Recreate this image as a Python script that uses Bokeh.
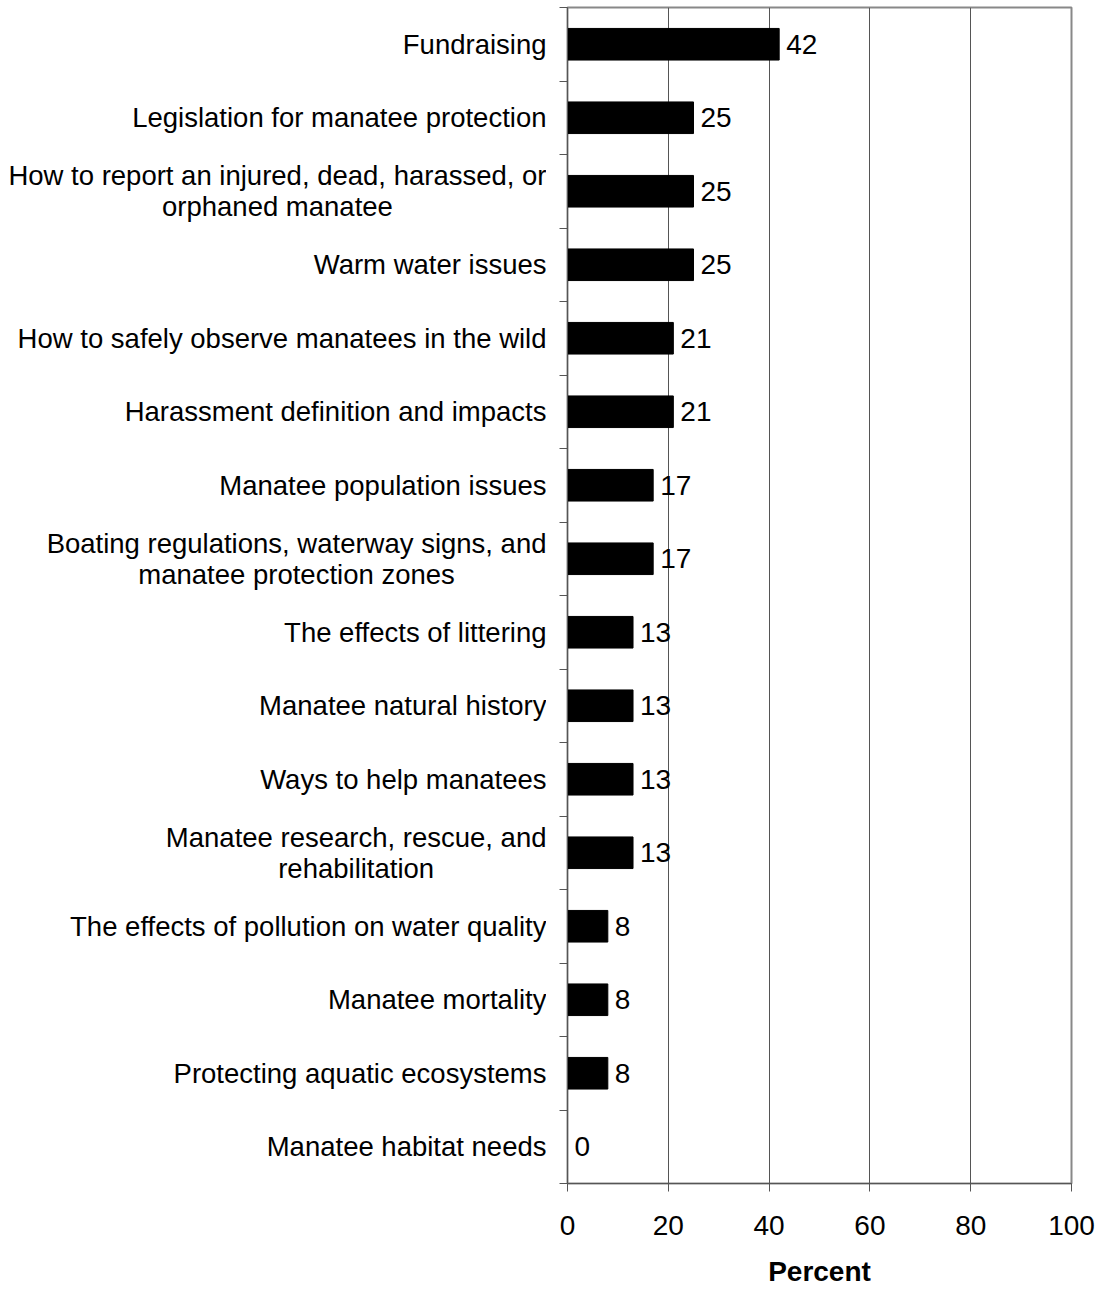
from bokeh.plotting import figure
from bokeh.layouts import row
from bokeh.models import Range1d, FixedTicker, ColumnDataSource, LabelSet
from bokeh.core.properties import value
from bokeh.embed import file_html
from bokeh.resources import INLINE

categories = [
    "Fundraising",
    "Legislation for manatee protection",
    "How to report an injured, dead, harassed, or\norphaned manatee",
    "Warm water issues",
    "How to safely observe manatees in the wild",
    "Harassment definition and impacts",
    "Manatee population issues",
    "Boating regulations, waterway signs, and\nmanatee protection zones",
    "The effects of littering",
    "Manatee natural history",
    "Ways to help manatees",
    "Manatee research, rescue, and\nrehabilitation",
    "The effects of pollution on water quality",
    "Manatee mortality",
    "Protecting aquatic ecosystems",
    "Manatee habitat needs",
]
percent = [42, 25, 25, 25, 21, 21, 17, 17, 13, 13, 13, 13, 8, 8, 8, 0]
x_ticks = [0, 20, 40, 60, 80, 100]
x_label = "Percent"

n = len(categories)
pos = list(range(n))
src = ColumnDataSource(dict(y=pos, x=percent, text=[str(v) for v in percent]))

FONT = "Liberation Sans"
FS = "28px"
CAT_FS = "27.5px"

y_range = Range1d(n - 0.5, -0.5)

# ---- left panel holding the category labels ----
lab_range = Range1d(0, 1)
cat_src = ColumnDataSource(dict(y=pos, x=[lab_range.end] * n, text=categories))
pl = figure(
    frame_width=546, frame_height=1176,
    x_range=lab_range, y_range=y_range,
    output_backend="svg", toolbar_location=None,
    x_axis_location=None, y_axis_location=None,
    min_border_left=0, min_border_right=0, min_border_top=7, min_border_bottom=104,
)
pl.outline_line_color = None
pl.xgrid.visible = False
pl.ygrid.visible = False
pl.background_fill_color = "white"
pl.border_fill_color = "white"
pl.text(x="x", y="y", text="text", source=cat_src,
        anchor="center_right", text_align="center", text_baseline="middle",
        text_font=value(FONT), text_font_size=value(CAT_FS),
        text_color="black", text_line_height=1.0)

# ---- main chart ----
p = figure(
    frame_width=504, frame_height=1176,
    x_range=Range1d(0, 100), y_range=y_range,
    output_backend="svg", toolbar_location=None,
    min_border_left=21, min_border_right=29, min_border_top=7, min_border_bottom=104,
)
p.background_fill_color = "white"
p.border_fill_color = "white"
p.outline_line_color = "#888888"
p.outline_line_width = 2

p.hbar(y="y", right="x", left=0, height=0.43, source=src,
       fill_color="black", line_color="black")

labels = LabelSet(x="x", y="y", text="text", source=src, x_offset=7,
                  text_baseline="middle", text_align="left",
                  text_font=value(FONT), text_font_size=FS, text_color="black")
p.add_layout(labels)

# grid
p.ygrid.grid_line_color = None
p.xgrid.ticker = FixedTicker(ticks=x_ticks)
p.xgrid.grid_line_color = "#555555"
p.xgrid.grid_line_width = 1

# x axis
xa = p.xaxis[0]
xa.ticker = FixedTicker(ticks=x_ticks)
xa.major_tick_out = 8
xa.major_tick_in = 0
xa.minor_tick_out = 0
xa.minor_tick_in = 0
xa.axis_line_color = "#555555"
xa.major_tick_line_color = "#555555"
xa.major_label_text_font = FONT
xa.major_label_text_font_size = FS
xa.major_label_text_color = "black"
xa.major_label_standoff = 24
xa.axis_label = x_label
xa.axis_label_text_font = FONT
xa.axis_label_text_font_size = FS
xa.axis_label_text_font_style = "bold"
xa.axis_label_text_color = "black"
xa.axis_label_standoff = 18

# y axis: ticks between categories, labels in the left panel
ya = p.yaxis[0]
ya.ticker = FixedTicker(ticks=pos, minor_ticks=[i - 0.5 for i in range(n + 1)])
ya.major_label_overrides = {i: "" for i in pos}
ya.major_tick_out = 0
ya.major_tick_in = 0
ya.minor_tick_out = 8
ya.minor_tick_in = 0
ya.axis_line_color = "#555555"
ya.minor_tick_line_color = "#555555"
ya.major_label_standoff = 13

layout = row(pl, p, spacing=0)

open("out.html", "w").write(file_html(layout, INLINE))
